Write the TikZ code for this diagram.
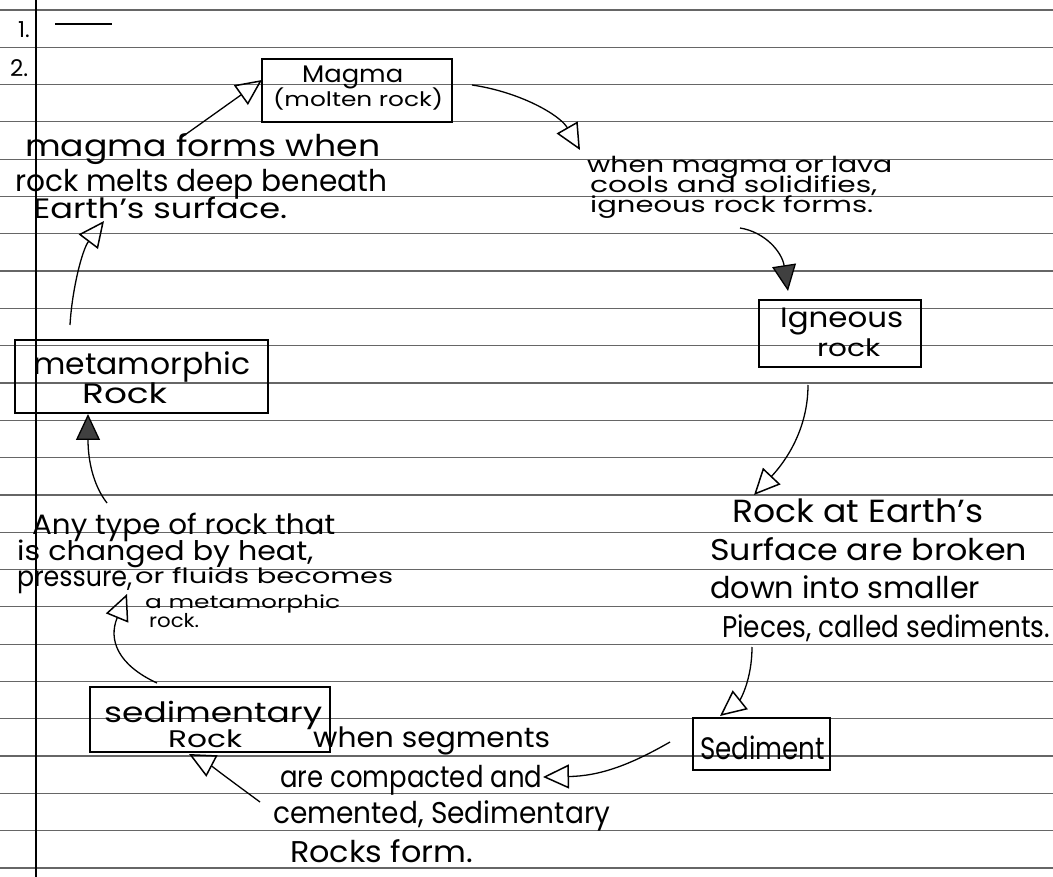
\documentclass[tikz,border=0pt]{standalone}
\usepackage{fontspec}
\setmainfont{Poppins}
\usetikzlibrary{arrows.meta}
\newcommand{\hw}[3]{\resizebox{#1pt}{\height}{\fontsize{#2}{#2}\selectfont #3}}
\tikzset{
  rule/.style={black!60, line width=1.2pt},
  margin/.style={black, line width=1.6pt},
  box/.style={draw, line width=2pt, inner sep=0pt},
  txt/.style={inner sep=0pt, anchor=base west},
  conn/.style={line width=1.3pt, -{Triangle[open, length=26pt, width=24pt, line width=1.5pt]}},
  connf/.style={line width=1.3pt, -{Triangle[length=26pt, width=24pt, fill=black!75]}}
}
\begin{document}
\begin{tikzpicture}[x=1pt,y=-1pt]
\useasboundingbox (0,0) rectangle (1053,877);
\fill[white] (0,0) rectangle (1053,877);
% ruled paper
\foreach \k in {0,...,23} {
  \draw[rule] (0,{10+37.3*\k}) -- (1053,{10+37.3*\k});
}
\draw[margin] (36,0) -- (36,877);
\node[txt] (n1) at (18,38) {\fontsize{22}{22}\selectfont 1.};
\node[txt] (n2) at (10,77) {\fontsize{23}{23}\selectfont 2.};
\coordinate (d1) at (55,24); \coordinate (d2) at (112,24);
\draw[line width=1.4pt] (d1) -- (d2);

% boxes
\node[box, minimum width=190pt, minimum height=63pt] (magma) at (357,90.5) {};
\node[box, minimum width=162pt, minimum height=67pt] (igneous) at (840,333.5) {};
\node[box, minimum width=137pt, minimum height=52pt] (sediment) at (761.5,744) {};
\node[box, minimum width=240pt, minimum height=65pt] (sedrock) at (210,719.5) {};
\node[box, minimum width=253pt, minimum height=73pt] (meta) at (141.5,376.5) {};

% box texts
\node[txt] (magmaA) at (302,83) {\hw{101}{24}{Magma}};
\node[txt] (magmaB) at (273,107) {\hw{170}{20}{(molten rock)}};
\node[txt] (ignA) at (780,328) {\hw{123}{28}{Igneous}};
\node[txt] (ignB) at (817,357) {\hw{63}{24}{rock}};
\node[txt] (sedA) at (700,759) {\hw{125}{31}{Sediment}};
\node[txt] (srA) at (104,722) {\hw{218}{28}{sedimentary}};
\node[txt] (srB) at (168,747) {\hw{74}{24}{Rock}};
\node[txt] (metaA) at (33,375) {\hw{217}{30}{metamorphic}};
\node[txt] (metaB) at (82,403) {\hw{85}{28}{Rock}};

% description texts
\node[txt] (t1a) at (25,157) {\hw{355}{30}{magma forms when}};
\node[txt] (t1b) at (15,192) {\hw{372}{30}{rock melts deep beneath}};
\node[txt] (t1c) at (33,219) {\hw{254}{28}{Earth's surface.}};

\node[txt] (t2a) at (587,173) {\hw{305}{22}{when magma or lava}};
\node[txt] (t2b) at (590,193) {\hw{287}{22}{cools and solidifies,}};
\node[txt] (t2c) at (590,213) {\hw{283}{22}{igneous rock forms.}};

\node[txt] (t3a) at (732,522) {\hw{251}{32}{Rock at Earth's}};
\node[txt] (t3b) at (710,560) {\hw{317}{30}{Surface are broken}};
\node[txt] (t3c) at (710,598) {\hw{270}{30}{down into smaller}};
\node[txt] (t3d) at (722,637) {\hw{328}{30}{Pieces, called sediments.}};

\node[txt] (t4a) at (32,534) {\hw{303}{28}{Any type of rock that}};
\node[txt] (t4b) at (17,560) {\hw{296}{27}{is changed by heat,}};
\node[txt] (t4c) at (17,586) {\hw{115}{28}{pressure,}};
\node[txt] (t4d) at (135,583) {\hw{258}{21}{or fluids becomes}};
\node[txt] (t4e) at (145,608) {\hw{195}{18}{a metamorphic}};
\node[txt] (t4f) at (149,627) {\hw{50}{19}{rock.}};

\node[txt] (t5a) at (313,747) {\hw{237}{28}{when segments}};
\node[txt] (t5b) at (280,787) {\hw{262}{30}{are compacted and}};
\node[txt] (t5c) at (273,823) {\hw{337}{30}{cemented, Sedimentary}};
\node[txt] (t5d) at (290,862) {\hw{183}{30}{Rocks form.}};

% connector end points
\coordinate (a1s) at (182,137);  \coordinate (a1e) at (262,80);
\coordinate (a2s) at (472,85);   \coordinate (a2e) at (580,150);
\coordinate (a3s) at (740,228);  \coordinate (a3e) at (788,291);
\coordinate (a4s) at (808,385);  \coordinate (a4e) at (754,495);
\coordinate (a5s) at (752,647);  \coordinate (a5e) at (720,716);
\coordinate (a6s) at (670,742);  \coordinate (a6e) at (543,777);
\coordinate (a7s) at (260,802);  \coordinate (a7e) at (189,754);
\coordinate (a8s) at (157,683);  \coordinate (a8e) at (127,594);
\coordinate (a9s) at (107,503);  \coordinate (a9e) at (88,414);
\coordinate (a10s) at (70,325);  \coordinate (a10e) at (104,221);

\draw[conn] (a1s) -- (a1e);
\draw[conn] (a2s) .. controls (520,92) and (560,115) .. (a2e);
\draw[connf] (a3s) .. controls (765,232) and (782,252) .. (a3e);
\draw[conn] (a4s) .. controls (808,430) and (785,462) .. (a4e);
\draw[conn] (a5s) .. controls (752,680) and (740,700) .. (a5e);
\draw[conn] (a6s) .. controls (630,765) and (600,776) .. (a6e);
\draw[conn] (a7s) .. controls (230,780) and (210,765) .. (a7e);
\draw[conn] (a8s) .. controls (118,665) and (108,640) .. (a8e);
\draw[connf] (a9s) .. controls (93,485) and (88,460) .. (a9e);
\draw[conn] (a10s) .. controls (72,290) and (82,250) .. (a10e);
\end{tikzpicture}
\end{document}
